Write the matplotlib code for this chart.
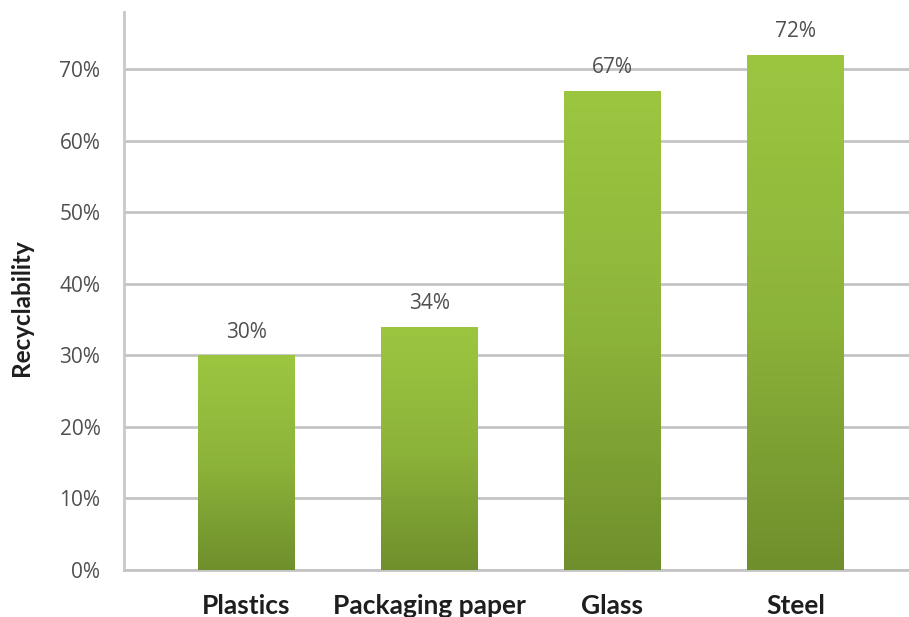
import matplotlib
matplotlib.use("Agg")
import matplotlib.pyplot as plt
import numpy as np
from matplotlib.colors import LinearSegmentedColormap

categories = ["Plastics", "Packaging paper", "Glass", "Steel"]
values = [0.30, 0.34, 0.67, 0.72]
value_labels = ["30%", "34%", "67%", "72%"]
yticks = [0.0, 0.1, 0.2, 0.3, 0.4, 0.5, 0.6, 0.7]
ytick_labels = ["0%", "10%", "20%", "30%", "40%", "50%", "60%", "70%"]

fig = plt.figure(figsize=(9.09, 6.17), dpi=100)
ax = fig.add_axes([124/909, 1-570/617, 1-124/909, (570-12)/617])

x = np.arange(len(categories))
bars = ax.bar(x, values, width=0.525, color="#86ab38", zorder=3)

cmap = LinearSegmentedColormap.from_list("g", ["#6f8f2c", "#8db43a", "#9cc640"])
grad = np.linspace(0, 1, 256).reshape(-1, 1)
for b in bars:
    x0, y0 = b.get_x(), b.get_y()
    w, h = b.get_width(), b.get_height()
    im = ax.imshow(grad, cmap=cmap, aspect="auto", origin="lower",
                   extent=[x0, x0 + w, y0, y0 + h], zorder=4)
    im.set_clip_path(b)

ax.set_xlim(-0.667, 3.62)
ax.set_ylim(0, 0.78)
ax.set_yticks(yticks)
ax.set_yticklabels(ytick_labels, fontsize=15, color="#505050", family="Open Sans")
ax.set_xticks(x)
ax.set_xticklabels(categories, fontsize=19, fontweight="bold", color="#1e1e1e", family="Lato")
ax.tick_params(axis="both", length=0)
ax.tick_params(axis="y", pad=17)
ax.tick_params(axis="x", pad=17)

ax.yaxis.grid(True, color="#c4c4c4", linewidth=2, zorder=0)
ax.set_axisbelow(True)
for s in ["top", "right"]:
    ax.spines[s].set_visible(False)
ax.spines["left"].set_color("#c8c8c8")
ax.spines["left"].set_linewidth(2)
ax.spines["bottom"].set_color("#c4c4c4")
ax.spines["bottom"].set_linewidth(2)

for xi, v, lab in zip(x, values, value_labels):
    ax.annotate(lab, (xi, v), xytext=(0, 9), textcoords="offset points",
                ha="center", va="bottom", fontsize=15, color="#505050", family="Open Sans")

ax.set_ylabel("Recyclability", fontsize=17.5, fontweight="bold", color="#1e1e1e",
              family="Lato")
ax.yaxis.set_label_coords(-0.116, 0.471)

fig.savefig("out.png", dpi=100)
